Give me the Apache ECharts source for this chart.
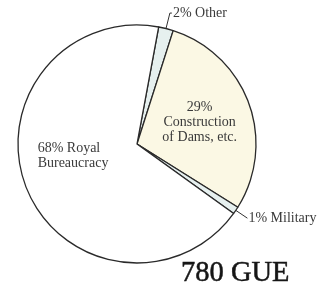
<!DOCTYPE html>
<html>
<head>
<meta charset="utf-8">
<script src="https://cdn.jsdelivr.net/npm/echarts@6/dist/echarts.min.js"></script>
<style>
  html, body { margin: 0; padding: 0; background: #fff; }
  #main { width: 326px; height: 287px; }
</style>
</head>
<body>
<div id="main"></div>
<script>
// slice order goes clockwise from the top
var categories = ['Other', 'Construction of Dams, etc.', 'Military', 'Royal Bureaucracy'];
var shares = [2, 29, 1, 68];
var labelTexts = ['2% Other', '29%\nConstruction\nof Dams, etc.', '1% Military', '{l|68% Royal}\n{l|Bureaucracy}'];
var totalLabel = '780 GUE';

var fills = ['#e6f0ef', '#fbf8e4', '#e6f0ef', '#ffffff'];

var serif = '"Liberation Serif", "DejaVu Serif", serif';

var pieData = [];
for (var i = 0; i < categories.length; i++) {
    var item = {
        name: categories[i],
        value: shares[i],
        itemStyle: { color: fills[i] },
        label: { formatter: labelTexts[i] }
    };
    if (i == 1) {
        item.label.position = 'inside';
        item.label.padding = [5, 0, 0, 8];
    } else if (i == 3) {
        item.label.position = 'inside';
        item.label.padding = [0, 12, 22, 0];
        item.label.rich = {
            l: { align: 'left', fontFamily: serif, fontSize: 14, lineHeight: 15, color: '#3a3a3a' }
        };
    } else if (i == 0) {
        item.labelLine = { length: 16, length2: 2 };
    } else {
        item.labelLine = { length: 14, length2: 0 };
    }
    pieData.push(item);
}

var myChart = echarts.init(document.getElementById('main'));
var option = {
    backgroundColor: '#ffffff',
    animation: false,
    title: {
        text: totalLabel,
        left: 176,
        top: 254,
        textStyle: {
            fontFamily: serif,
            fontSize: 28.5,
            fontWeight: 'normal',
            color: '#151515',
            textBorderColor: '#151515',
            textBorderWidth: 0.5
        }
    },
    series: [{
        type: 'pie',
        center: [137, 144],
        radius: 119,
        startAngle: 79.5,
        clockwise: true,
        avoidLabelOverlap: false,
        itemStyle: {
            borderColor: '#2a2a2a',
            borderWidth: 1.3
        },
        label: {
            show: true,
            position: 'outside',
            fontFamily: serif,
            fontSize: 14,
            lineHeight: 15,
            color: '#3a3a3a',
            distanceToLabelLine: 1
        },
        labelLine: {
            show: true,
            lineStyle: { color: '#333', width: 1 }
        },
        emphasis: { disabled: true },
        data: pieData
    }]
};
myChart.setOption(option);
</script>
</body>
</html>
